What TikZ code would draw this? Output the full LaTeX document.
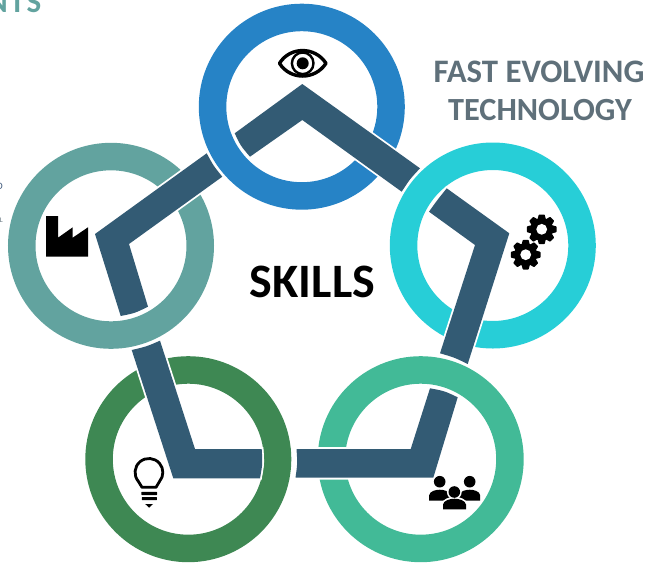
\documentclass[tikz,border=0pt]{standalone}
\usepackage{fontspec}
\setmainfont{Carlito}
\newfontfamily\spacedfont[LetterSpace=6]{Carlito}
\definecolor{ringblue}{HTML}{2683C6}
\definecolor{ringteal}{HTML}{62A39F}
\definecolor{ringcyan}{HTML}{27CED7}
\definecolor{ringlgreen}{HTML}{42BA97}
\definecolor{ringdgreen}{HTML}{3E8853}
\definecolor{bandcol}{HTML}{335B74}
\definecolor{graytext}{HTML}{5F707A}
\definecolor{navybit}{HTML}{3B5578}
\tikzset{
  ring/.style={circle,draw=#1,line width=27.5pt,minimum size=178.5pt,inner sep=0pt,outer sep=0pt},
  bandpiece/.style={fill=bandcol,preaction={draw=white,line width=3.6pt,line join=miter}},
  gearicon/.pic={
    \fill[black] (0,0) circle[radius=11.4pt];
    \foreach \a in {0,45,...,315}{
      \fill[black,rotate=\a,rounded corners=0.6pt] (-2.9,-14.8) -- (2.9,-14.8) -- (4.4,-9) -- (-4.4,-9) -- cycle;
    }
    \fill[white] (0,0) circle[radius=5.4pt];
  },
  person/.pic={
    \fill[black] (0,0) circle[radius=5.8pt];
    \fill[black] (-10.5,19) -- (-10.5,13.5) .. controls (-10,9.5) and (-4,8) .. (0,8) .. controls (4,8) and (10,9.5) .. (10.5,13.5) -- (10.5,19) -- cycle;
  }
}
\begin{document}
\begin{tikzpicture}[x=1pt,y=-1pt]
\useasboundingbox (0,0) rectangle (648,563);
\clip (0,0) rectangle (648,563);
% rings
\node[ring=ringblue] (blue) at (301.8,106.7) {};
\node[ring=ringcyan] (cyan) at (492.8,245.5) {};
\node[ring=ringlgreen] (lgreen) at (420.7,459.2) {};
\node[ring=ringdgreen] (dgreen) at (188.3,459.2) {};
\node[ring=ringteal] (teal) at (111,245.8) {};
% bands
\path[bandpiece] (302.3,84) -- (234.7,133.3) .. controls (240.75,146) .. (250,156.7) -- (302.3,120) -- (401.7,191.7) .. controls (409.8,179.2) .. (420,168.3) -- cycle;
\path[bandpiece] (446.7,188.3) -- (509.3,233.3) -- (467.7,364) .. controls (454.25,357.4) .. (440,353.3) -- (475,245) -- (429,211.7) .. controls (436.4,201.2) .. cycle;
\path[bandpiece] (457.7,397.3) -- (433.3,477.7) -- (295.5,477.7) .. controls (297.5,463.35) .. (296.5,449) -- (410.7,449) -- (430,388.3) .. controls (444.5,391) .. cycle;
\path[bandpiece] (261.7,449) -- (195,449) -- (160,340.7) .. controls (146.3,346.6) .. (131.7,350) -- (173.3,478.3) -- (260,478.3) .. controls (262.6,464) .. cycle;
\path[bandpiece] (120.7,316) -- (95,234) -- (206.7,153.3) .. controls (213.4,165.7) .. (222.3,176.7) -- (129,244) -- (148,306.7) .. controls (135,313.1) .. cycle;
% eye
\draw[black,line width=3.4pt,line join=round,fill=white] (279.5,63.3) .. controls (290,46.3) and (315,46.3) .. (326,63.3) .. controls (315,80.3) and (290,80.3) .. cycle;
\draw[black,line width=2.4pt] (302.7,63.3) circle[radius=10.8pt];
\fill[black] (302.7,63.3) circle[radius=6pt];
% gears
\pic at (541.7,229.3) {gearicon};
\pic at (525.7,254.7) {gearicon};
% factory
\fill[black] (46,216) -- (58,216) -- (58,237.7) -- (72.7,227.3) -- (72.7,237.7) -- (88,227.3) -- (88,256.7) -- (46,256.7) -- cycle;
% bulb
\draw[black,line width=2.8pt,line join=round] (142,487.3) -- (138.3,481.3) arc[start angle=220,end angle=-40,radius=13.9pt] -- (156,487.3) -- cycle;
\fill[black,rounded corners=0.5pt] (141.3,491.8) rectangle (157,495);
\fill[black,rounded corners=0.5pt] (141.8,497) rectangle (156.8,500.2);
\fill[black] (145.2,504) -- (153,504) -- (149.2,507.7) -- cycle;
% people
\pic at (439.7,481.7) {person};
\pic at (469.7,481.7) {person};
\draw[white,line width=2.4pt,fill=white] (443,509.5) -- (443,504) .. controls (443.5,500) and (450,498) .. (454.5,498) .. controls (459,498) and (465.5,500) .. (466,504) -- (466,509.5) -- cycle;
\fill[white] (454.3,492) circle[radius=7.4pt];
\fill[black] (454.3,492) circle[radius=5.8pt];
\fill[black] (443,509.3) -- (443,504.5) .. controls (443.5,500.5) and (450,498.7) .. (454.5,498.7) .. controls (459,498.7) and (465.5,500.5) .. (466,504.5) -- (466,509.3) -- cycle;
% text
\node[anchor=base,font=\bfseries\fontsize{32.8}{32.8}\selectfont,text=graytext,inner sep=0pt] (fast) at (539,82.7) {FAST EVOLVING};
\node[anchor=base,font=\bfseries\fontsize{32.3}{32.3}\selectfont,text=graytext,inner sep=0pt] (tech) at (540,120) {TECHNOLOGY};
\node[anchor=base,font=\bfseries\fontsize{48}{48}\selectfont,text=black,inner sep=0pt] (skills) at (312.5,297) {SKILLS};
\node[anchor=base east,text=ringteal,inner sep=0pt,font=\spacedfont\bfseries\fontsize{31}{31}\selectfont] (nts) at (41.5,12.7) {NTS};
\node[anchor=base east,text=navybit,inner sep=0pt,font=\fontsize{10}{10}\selectfont] (fragd) at (3,189) {D};
\node[anchor=base east,text=graytext,inner sep=0pt,font=\fontsize{7}{7}\selectfont] (fragl) at (3,222) {L};
\end{tikzpicture}
\end{document}
